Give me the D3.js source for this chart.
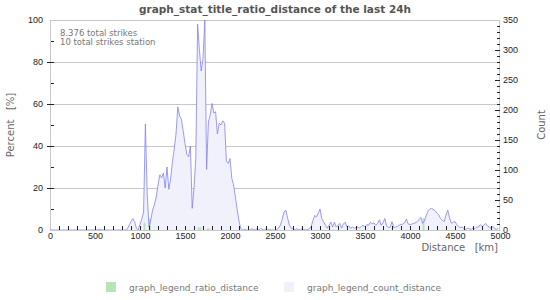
<!DOCTYPE html>
<html>
<head>
<meta charset="utf-8">
<script src="https://cdnjs.cloudflare.com/ajax/libs/d3/7.8.5/d3.min.js"></script>
<style>
  body { margin: 0; background: #fff; }
  svg { font-family: "DejaVu Sans", sans-serif; }
  text { white-space: pre; }
</style>
</head>
<body>
<script>
// strikes per 20 km distance bin (bin start = index * binKm)
const binKm = 20;
const counts = [
  0,0,0,0,0,0,0,0,0,0,
  0,0,0,0,0,0,0,0,0,0,
  0,0,0,0,0,0,0,1,1,0,
  0,0,0,0,0,0,0,0,0,0,
  0,0,0,2,8,14,19,14,3,0,
  10,18,30,177,60,5,17,33,42,55,
  75,92,87,95,70,105,68,85,113,135,
  160,205,190,185,165,144,126,122,140,36,
  70,120,343,300,265,285,350,101,180,192,
  211,195,197,160,178,175,182,178,114,111,
  119,86,75,55,34,15,2,0,1,0,
  0,0,2,1,0,2,0,3,1,0,
  2,0,1,0,0,0,1,3,8,18,
  30,33,20,8,3,2,0,2,1,0,
  2,1,0,1,2,5,15,24,22,28,
  35,19,14,8,3,8,13,5,13,5,
  8,11,3,10,13,5,7,3,5,3,
  4,5,3,6,8,5,9,8,13,10,
  12,8,11,17,8,12,19,7,4,5,
  14,4,5,6,8,9,10,12,18,10,
  9,10,11,12,14,17,21,11,15,24,
  32,35,36,34,32,28,25,19,16,14,
  25,33,20,11,13,14,9,6,4,5,
  2,1,3,2,1,3,2,5,5,9,
  6,8,11,7,5,3,6,2,1,3
];

// station ratio in percent, only non-empty bins
const ratioKm = [1040, 1100, 1640, 1660, 1740, 1760, 4140];
const ratioPct = [3.5, 5.4, 1.3, 1.3, 0.8, 0.8, 5.6];

const xTicks = [0, 500, 1000, 1500, 2000, 2500, 3000, 3500, 4000, 4500, 5000];
const pctTicks = [0, 20, 40, 60, 80, 100];
const countTicks = [0, 50, 100, 150, 200, 250, 300, 350];

const title = "graph_stat_title_ratio_distance of the last 24h";
const notes = ["8.376 total strikes", "10 total strikes station"];
const legendNames = ["graph_legend_ratio_distance", "graph_legend_count_distance"];

const width = 550, height = 300;
const m = { left: 50, right: 50, top: 20, bottom: 70 };
const lineColor = "#8282f2", fillColor = "#f1f1fc", greenColor = "#b8e2b8";

const svg = d3.select("body").append("svg")
  .attr("width", width)
  .attr("height", height);

const x = d3.scaleLinear().domain([0, 5000]).range([m.left, width - m.right]);
const yPct = d3.scaleLinear().domain([0, 100]).range([height - m.bottom, m.top]);
const yCnt = d3.scaleLinear().domain([0, 350]).range([height - m.bottom, m.top]);

// grid
svg.append("g")
  .selectAll("line")
  .data(pctTicks.filter(d => d > 0))
  .join("line")
  .attr("x1", x(0)).attr("x2", x(5000))
  .attr("y1", d => yPct(d) + 0.5).attr("y2", d => yPct(d) + 0.5)
  .attr("stroke", "#c8c8c8");

// frame sides
svg.append("line")
  .attr("x1", x(0) + 0.5).attr("x2", x(0) + 0.5)
  .attr("y1", yPct(100)).attr("y2", yPct(0))
  .attr("stroke", "#c8c8c8");
svg.append("line")
  .attr("x1", x(5000) - 0.5).attr("x2", x(5000) - 0.5)
  .attr("y1", yPct(100)).attr("y2", yPct(0))
  .attr("stroke", "#c8c8c8");

// count area + line
const pts = counts.map((c, i) => [i * binKm, c]);
svg.append("path")
  .datum(pts)
  .attr("fill", fillColor)
  .attr("d", d3.area().x(d => x(d[0])).y0(yCnt(0)).y1(d => yCnt(d[1])));

// ratio bars
svg.append("g")
  .selectAll("rect")
  .data(ratioKm.map((k, i) => [k, ratioPct[i]]))
  .join("rect")
  .attr("x", d => x(d[0]))
  .attr("width", d => x(d[0] + binKm) - x(d[0]))
  .attr("y", d => yPct(d[1]))
  .attr("height", d => yPct(0) - yPct(d[1]))
  .attr("fill", greenColor);

svg.append("path")
  .datum(pts)
  .attr("fill", "none")
  .attr("stroke", lineColor)
  .attr("stroke-width", 0.8)
  .attr("d", d3.line().x(d => x(d[0])).y(d => yCnt(d[1])));

// x axis: ticks drawn upward inside plot
const xAxis = svg.append("g")
  .attr("transform", `translate(0,${yPct(0)})`)
  .call(d3.axisBottom(x).tickValues(xTicks).tickSize(0).tickPadding(3).tickFormat(d3.format("d")));
xAxis.select(".domain").attr("stroke", "#c8c8c8");
xAxis.selectAll("text").attr("fill", "#222").style("font-size", "9px");
svg.append("g")
  .selectAll("line")
  .data(d3.range(100, 5000, 100))
  .join("line")
  .attr("x1", d => Math.round(x(d)) + 0.5).attr("x2", d => Math.round(x(d)) + 0.5)
  .attr("y1", yPct(0)).attr("y2", yPct(0) - 4)
  .attr("stroke", "#222");

// left axis
const yl = svg.append("g")
  .attr("transform", `translate(${m.left},0)`)
  .call(d3.axisLeft(yPct).tickValues(pctTicks).tickSize(0).tickPadding(7));
yl.select(".domain").remove();
yl.selectAll("text").attr("fill", "#222").style("font-size", "9px");
svg.append("g")
  .selectAll("line")
  .data(d3.range(10, 100, 10))
  .join("line")
  .attr("x1", d => d % 20 ? m.left + 1 : m.left - 3)
  .attr("x2", m.left + 4)
  .attr("y1", d => Math.round(yPct(d)) + 0.5).attr("y2", d => Math.round(yPct(d)) + 0.5)
  .attr("stroke", "#222");

// right axis
const yr = svg.append("g")
  .attr("transform", `translate(${width - m.right},0)`)
  .call(d3.axisRight(yCnt).tickValues(countTicks).tickSize(0).tickPadding(3));
yr.select(".domain").remove();
yr.selectAll("text").attr("fill", "#222").style("font-size", "9px");
svg.append("g")
  .selectAll("line")
  .data(d3.range(10, 350, 10))
  .join("line")
  .attr("x1", d => d % 50 ? width - m.right - 3 : width - m.right - 5)
  .attr("x2", width - m.right)
  .attr("y1", d => Math.round(yCnt(d)) + 0.5).attr("y2", d => Math.round(yCnt(d)) + 0.5)
  .attr("stroke", "#222");

// titles
svg.append("text")
  .attr("x", 275).attr("y", 13)
  .attr("text-anchor", "middle")
  .attr("fill", "#555")
  .style("font-size", "10.5px").style("font-weight", "bold")
  .text(title);

svg.append("text")
  .attr("transform", `translate(14,125) rotate(-90)`)
  .attr("text-anchor", "middle")
  .attr("fill", "#666")
  .style("font-size", "10px")
  .text("Percent   [%]");

svg.append("text")
  .attr("transform", `translate(545,125) rotate(-90)`)
  .attr("text-anchor", "middle")
  .attr("fill", "#666")
  .style("font-size", "10px")
  .text("Count");

svg.append("text")
  .attr("x", 498).attr("y", 251)
  .attr("text-anchor", "end")
  .attr("fill", "#666")
  .style("font-size", "10px")
  .text("Distance   [km]");

svg.append("g")
  .selectAll("text")
  .data(notes)
  .join("text")
  .attr("x", 60).attr("y", (d, i) => 36 + i * 8.5)
  .attr("fill", "#777")
  .style("font-size", "8.5px")
  .text(d => d);

// legend
const lg = svg.append("g")
  .selectAll("g")
  .data(legendNames)
  .join("g")
  .attr("transform", (d, i) => `translate(${i ? 284 : 106},282)`);
lg.append("rect")
  .attr("width", 10).attr("height", 10)
  .attr("fill", (d, i) => i ? fillColor : greenColor);
lg.append("text")
  .attr("x", 23).attr("y", 9)
  .attr("fill", "#777")
  .style("font-size", "9px")
  .text(d => d);
</script>
</body>
</html>
